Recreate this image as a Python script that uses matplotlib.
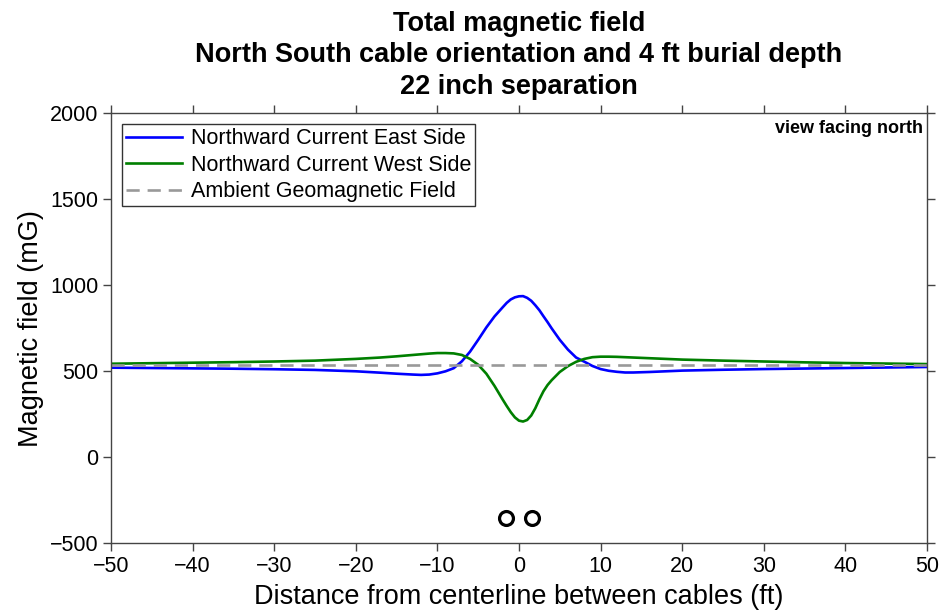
import matplotlib
matplotlib.use("Agg")
import matplotlib.pyplot as plt

plt.rcParams['font.family'] = ['Liberation Sans', 'DejaVu Sans']

# Distance from centerline (ft) and field values (mG)
dist = [-50, -45, -40, -35, -30, -25, -20, -17, -15, -13, -12, -11, -10, -9, -8,
        -7, -6, -5, -4, -3, -2, -1.5, -1, -0.5, 0, 0.5, 1, 1.5, 2, 2.5, 3, 3.5, 4, 5, 6, 7, 8, 9, 10,
        11, 12, 13, 14, 16, 18, 20, 25, 30, 35, 40, 45, 50]

east_side = [521, 519, 517, 515, 512, 508, 500, 492, 486, 481, 479, 481, 488, 500, 518,
             558, 614, 683, 755, 819, 872, 898, 918, 930, 936, 937, 927, 910, 884, 855, 820, 786, 750, 683, 626, 580, 556, 531, 513,
             503, 497, 493, 493, 496, 500, 504, 509, 513, 516, 519, 522, 525]

west_side = [544, 547, 550, 553, 557, 562, 572, 580, 587, 595, 599, 603, 606, 606, 604,
             595, 572, 538, 486, 415, 336, 298, 262, 232, 213, 208, 217, 243, 285, 337, 384, 420, 448, 496, 530, 555, 572, 582, 585,
             585, 584, 582, 580, 576, 572, 568, 562, 557, 552, 548, 545, 542]

ambient = 535

# cable positions (ft) and plotted depth marker (mG)
cable_x = [-1.6, 1.6]
cable_y = [-355, -355]

fig = plt.figure(figsize=(9.43, 6.13), dpi=100)
ax = fig.add_axes([0.1177, 0.1137, 0.8653, 0.7015])

ax.plot(dist, east_side, color='#0000ff', lw=1.9, label='Northward Current East Side')
ax.plot(dist, west_side, color='#007f00', lw=1.9, label='Northward Current West Side')
ax.plot([dist[0], dist[-1]], [ambient, ambient], color='#999999', lw=1.9,
        ls=(0, (5, 3)), label='Ambient Geomagnetic Field')
ax.plot(cable_x, cable_y, 'o', ms=10, mfc='none', mec='black', mew=2.3)

ax.set_xlim(-50, 50)
ax.set_ylim(-500, 2000)
ax.set_xticks(range(-50, 51, 10))
ax.set_yticks(range(-500, 2001, 500))
ax.tick_params(direction='out', length=6, width=1, color='#444444',
               labelsize=15.5, top=True, right=True, pad=3)
for s in ax.spines.values():
    s.set_color('#444444')
    s.set_linewidth(1)

ax.set_xlabel('Distance from centerline between cables (ft)', fontsize=19.5, labelpad=5)
ax.set_ylabel('Magnetic field (mG)', fontsize=19.5, labelpad=4)
ax.set_title('Total magnetic field\nNorth South cable orientation and 4 ft burial depth\n22 inch separation',
             fontsize=19.5, fontweight='bold', pad=14, linespacing=1.27)

ax.text(0.995, 0.985, 'view facing north', transform=ax.transAxes, ha='right', va='top',
        fontsize=13, fontweight='bold')

leg = ax.legend(loc='upper left', fontsize=15.5, handlelength=2.6, frameon=True,
                fancybox=False, edgecolor='black', borderpad=0.2, labelspacing=0.25,
                handletextpad=0.4, borderaxespad=0.5)
leg.get_frame().set_linewidth(1)

fig.savefig('out.png', dpi=100)
